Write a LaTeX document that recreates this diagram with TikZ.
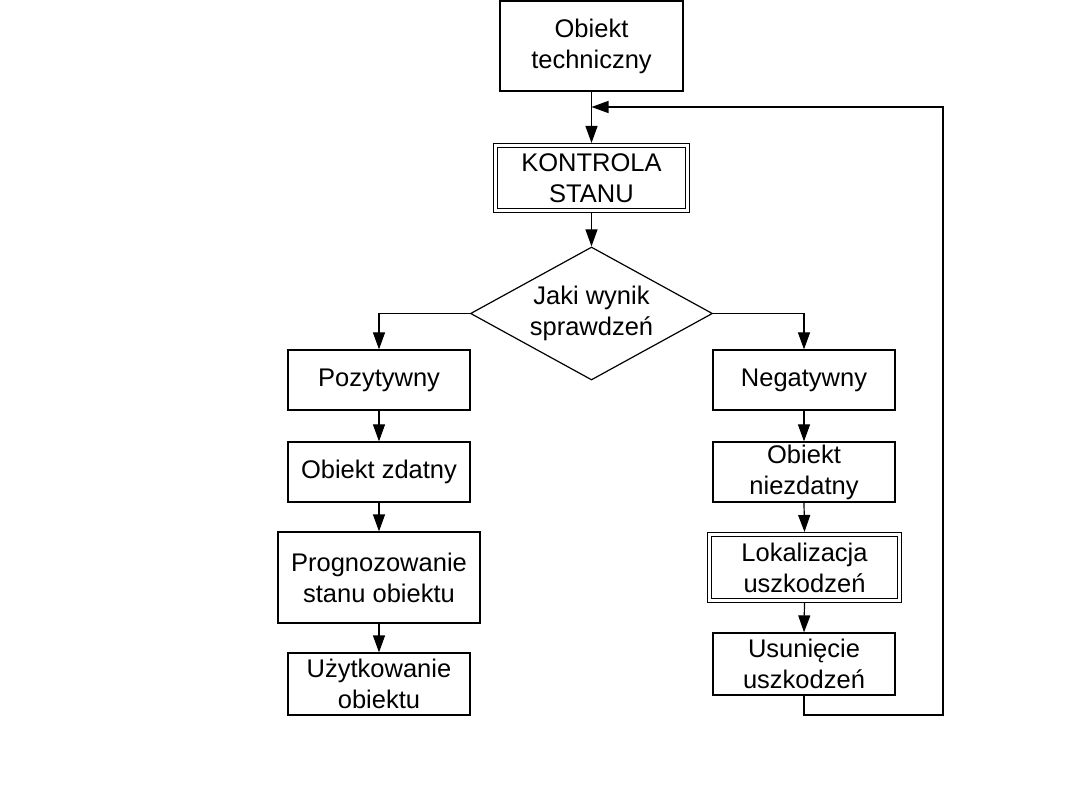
\documentclass[tikz,border=0pt]{standalone}
\usepackage{fontspec}
\setmainfont{Liberation Sans}
\usetikzlibrary{shapes.geometric,arrows.meta}
\begin{document}
\begin{tikzpicture}[x=1pt,y=-1pt,line width=1.2pt,
  box/.style={draw,rectangle,align=center,inner sep=0pt,
    font=\fontsize{25.5}{31}\selectfont,minimum width=182pt,minimum height=60pt},
  dbox/.style={box,double,double distance=2.6pt,outer sep=2.5pt},
  dec/.style={draw,diamond,aspect=2,align=center,inner sep=0pt,
    font=\fontsize{25.5}{31}\selectfont,minimum width=242pt,minimum height=133pt},
  arr/.style={-{Triangle[length=17pt,width=12pt]}}]
\useasboundingbox (0,0) rectangle (1080,810);
\node[box,minimum width=183pt,minimum height=90pt] (obj) at (591.5,46) {Obiekt\\techniczny};
\node[dbox,minimum width=192pt,minimum height=65pt] (kon) at (591.5,178) {KONTROLA\\STANU};
\node[dec] (dia) at (591.5,313.5) {Jaki wynik\\sprawdzeń};
\node[box] (poz) at (379,380) {Pozytywny};
\node[box] (zd) at (379,472) {Obiekt zdatny};
\node[box,minimum width=202pt,minimum height=91pt] (prog) at (379,577.5) {Prognozowanie\\stanu obiektu};
\node[box,minimum height=62pt] (uzyt) at (379,684) {Użytkowanie\\obiektu};
\node[box] (neg) at (804,380) {Negatywny};
\node[box] (niez) at (804,472) {Obiekt\\niezdatny};
\node[dbox,minimum width=190pt,minimum height=66pt] (lok) at (804.5,567.5) {Lokalizacja\\uszkodzeń};
\node[box,minimum height=62pt] (usun) at (804,664) {Usunięcie\\uszkodzeń};
\coordinate (join) at (591.5,107);
\coordinate (lb) at (943,715);
\coordinate (lt) at (943,107);
\draw[arr] (obj.south) -- (kon.north);
\draw[arr] (kon.south) -- (dia.north);
\draw[arr] (dia.west) -| (poz.north);
\draw[arr] (dia.east) -| (neg.north);
\draw[arr] (poz.south) -- (zd.north);
\draw[arr] (zd.south) -- (prog.north);
\draw[arr] (prog.south) -- (uzyt.north);
\draw[arr] (neg.south) -- (niez.north);
\draw[arr] (niez.south) -- (lok.north);
\draw[arr] (lok.south) -- (usun.south |- usun.north);
\draw[arr] (usun.south) |- (lb) -- (lt) -- (join);
\end{tikzpicture}
\end{document}
